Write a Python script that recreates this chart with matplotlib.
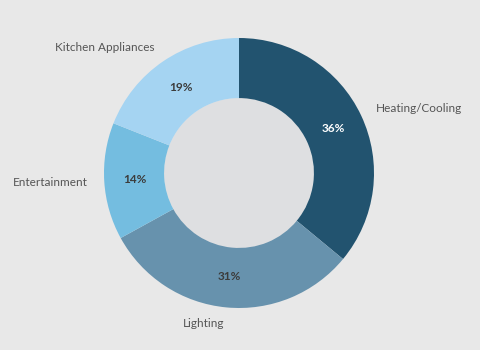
import matplotlib.pyplot as plt
from matplotlib.patches import Circle

# Données
categories = ["Heating/Cooling", "Lighting", "Entertainment", "Kitchen Appliances"]
values = [36, 31, 14, 19]
colors = ["#22536f", "#6792ad", "#74bde0", "#a5d4f2"]
pct_colors = ["white", "#3c3c3c", "#3c3c3c", "#3c3c3c"]

plt.rcParams['font.family'] = ['Lato', 'DejaVu Sans']

fig = plt.figure(figsize=(4.8, 3.5), dpi=100, facecolor="#e8e8e8")
ax = fig.add_axes([0, 0, 1, 1])
ax.set_facecolor("#e8e8e8")

# Anneau (coordonnées en pixels)
cx, cy, r = 239, 177, 135
wedges, texts, autotexts = ax.pie(
    values, labels=categories, colors=colors, startangle=90, counterclock=False,
    center=(cx, cy), radius=r, labeldistance=1.12, pctdistance=0.77,
    autopct="%d%%", wedgeprops=dict(width=r * 0.445, linewidth=0),
    textprops=dict(fontsize=8.5, color="#555555"))

ax.add_patch(Circle((cx, cy), r * 0.555, facecolor="#dedfe1", edgecolor="none", zorder=0))

# Aligner les étiquettes selon le côté du centre
for t in texts:
    x, y = t.get_position()
    t.set_horizontalalignment("left" if x > cx else "right")

for t, c in zip(autotexts, pct_colors):
    t.set_color(c)
    t.set_fontweight("bold")
    t.set_fontsize(8.5)

ax.set_xlim(0, 480)
ax.set_ylim(0, 350)
ax.axis("off")

fig.savefig("out.png", dpi=100, facecolor=fig.get_facecolor())
